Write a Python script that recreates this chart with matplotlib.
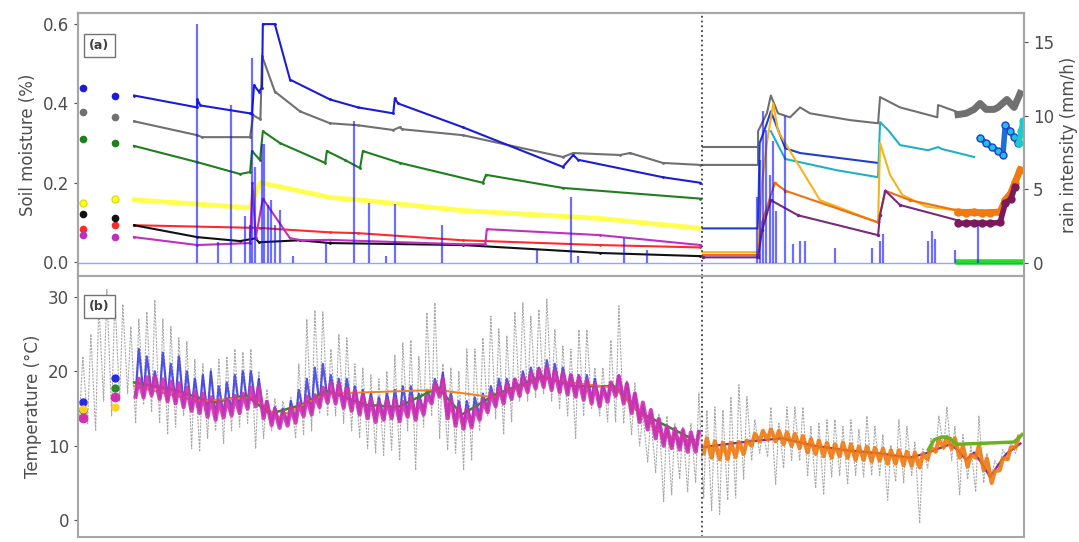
import matplotlib
matplotlib.use('Agg')
import matplotlib.pyplot as plt

# ---- soil moisture, left site (days, value) ----
start_days = [0.6, 4.6]   # isolated samples before the continuous record

sm_blue_start = [0.44, 0.42]
sm_blue_days = [7.0, 14.9, 14.9, 15.3, 21.5, 21.75, 22.0, 22.6, 23.0, 23.1, 24.6, 26.5, 31.5, 35.0, 39.4, 39.6, 40.0, 48.1, 60.6, 61.9, 62.5, 73.1, 77.8]
sm_blue = [0.42, 0.39, 0.41, 0.395, 0.375, 0.373, 0.446, 0.43, 0.44, 0.6, 0.6, 0.46, 0.41, 0.39, 0.375, 0.413, 0.40, 0.34, 0.24, 0.27, 0.258, 0.214, 0.20]

sm_grey_start = [0.378, 0.365]
sm_grey_days = [7.0, 14.9, 15.5, 21.5, 21.9, 22.8, 23.0, 24.6, 27.75, 31.5, 35.0, 39.4, 40.2, 40.5, 48.1, 60.6, 61.9, 67.75, 69.0, 73.1, 77.8]
sm_grey = [0.355, 0.32, 0.315, 0.315, 0.37, 0.36, 0.52, 0.43, 0.38, 0.35, 0.345, 0.333, 0.34, 0.335, 0.32, 0.265, 0.275, 0.27, 0.275, 0.25, 0.245]

sm_green_start = [0.31, 0.30]
sm_green_days = [7.0, 14.9, 20.25, 21.5, 21.75, 22.75, 23.1, 25.25, 30.9, 31.1, 33.4, 35.25, 35.6, 40.25, 50.6, 51.0, 60.6, 77.8]
sm_green = [0.293, 0.252, 0.222, 0.227, 0.28, 0.257, 0.33, 0.30, 0.25, 0.28, 0.257, 0.237, 0.28, 0.25, 0.20, 0.22, 0.187, 0.16]

sm_yellow_start = [0.15, 0.16]
sm_yellow_days = [7.0, 21.5, 22.75, 25.25, 31.5, 35.0, 48.1, 65.25, 77.8]
sm_yellow = [0.157, 0.137, 0.20, 0.19, 0.163, 0.157, 0.13, 0.11, 0.085]

sm_red_start = [0.083, 0.093]
sm_red_days = [7.0, 22.75, 31.5, 35.0, 48.1, 65.25, 77.8]
sm_red = [0.093, 0.086, 0.075, 0.073, 0.055, 0.043, 0.037]

sm_black_start = [0.121, 0.11]
sm_black_days = [7.0, 14.9, 20.25, 22.2, 22.6, 27.75, 31.5, 48.1, 65.25, 77.8]
sm_black = [0.093, 0.063, 0.053, 0.06, 0.05, 0.055, 0.048, 0.043, 0.023, 0.015]

sm_mag_start = [0.068, 0.063]
sm_mag_days = [7.0, 14.9, 21.5, 21.8, 22.2, 23.1, 26.5, 28.0, 31.5, 48.1, 50.9, 51.1, 65.25, 77.8]
sm_mag = [0.063, 0.043, 0.048, 0.20, 0.06, 0.16, 0.06, 0.055, 0.056, 0.045, 0.045, 0.083, 0.068, 0.043]

# ---- soil moisture, right site ----
sm2_grey_up_days = [78.1, 85.0]
sm2_grey_up = [0.29, 0.29]
sm2_grey_days = [78.1, 85.0, 85.0, 86.1, 86.6, 87.5, 89.0, 90.25, 91.5, 96.5, 100.0, 100.25, 102.75, 106.5, 107.4, 107.5, 110.0]
sm2_grey = [0.245, 0.245, 0.33, 0.375, 0.42, 0.375, 0.365, 0.39, 0.375, 0.358, 0.35, 0.416, 0.39, 0.37, 0.365, 0.396, 0.378]
sm2_grey_dots_days = [110.0, 111.0, 112.0, 112.75, 113.5, 114.5, 115.0, 116.1, 117.0, 117.75]
sm2_grey_dots = [0.372, 0.375, 0.385, 0.40, 0.385, 0.385, 0.39, 0.41, 0.39, 0.425]

sm2_blue_days = [78.1, 85.0, 85.2, 86.1, 86.6, 88.4, 90.25, 100.0]
sm2_blue = [0.085, 0.085, 0.30, 0.35, 0.38, 0.287, 0.275, 0.25]
sm2_cyan_days = [86.6, 88.4, 94.75, 100.0, 100.25, 101.25, 102.75, 106.25, 107.5, 108.0, 110.0, 112.0]
sm2_cyan = [0.33, 0.26, 0.232, 0.214, 0.353, 0.333, 0.295, 0.282, 0.29, 0.285, 0.275, 0.265]
sm2_blue_dots_days = [112.75, 113.5, 114.25, 115.0, 115.6, 115.9, 116.5, 117.0, 117.5]
sm2_blue_dots = [0.313, 0.30, 0.29, 0.28, 0.27, 0.345, 0.33, 0.315, 0.30]
sm2_cyan_dots_days = [117.6, 117.9, 118.1]
sm2_cyan_dots = [0.30, 0.33, 0.355]

sm2_gold_days = [78.1, 85.0, 85.5, 86.1, 86.9, 87.5, 89.0, 92.75, 100.0, 100.25, 101.5, 103.0, 106.0, 110.0]
sm2_gold = [0.025, 0.025, 0.2, 0.3, 0.4, 0.33, 0.28, 0.156, 0.10, 0.30, 0.22, 0.17, 0.14, 0.13]
sm2_orange_days = [78.1, 85.0, 85.5, 87.1, 88.4, 100.0, 100.25, 100.9, 104.0, 110.0]
sm2_orange = [0.018, 0.018, 0.10, 0.20, 0.18, 0.10, 0.12, 0.18, 0.156, 0.13]
sm2_orange_dots_days = [110.0, 111.0, 112.0, 113.0, 114.0, 115.25, 115.9, 116.6, 117.1, 117.75]
sm2_orange_dots = [0.126, 0.125, 0.126, 0.124, 0.125, 0.126, 0.156, 0.174, 0.20, 0.232]
sm2_purple_days = [78.1, 85.0, 85.5, 86.6, 90.0, 100.0, 100.25, 100.9, 102.75, 110.0]
sm2_purple = [0.012, 0.012, 0.08, 0.156, 0.118, 0.068, 0.12, 0.18, 0.144, 0.105]
sm2_purple_dots_days = [110.0, 111.0, 112.0, 113.0, 114.0, 115.25, 115.9, 116.6, 117.1]
sm2_purple_dots = [0.098, 0.098, 0.099, 0.098, 0.098, 0.10, 0.148, 0.16, 0.19]
sm2_green_days = [110.0, 111.5, 113.0, 114.5, 116.0, 117.5, 118.2]
sm2_green = [0.0, 0.0, 0.0, 0.0, 0.0, 0.0, 0.0]

# ---- rain intensity (mm/h) ----
rain_days = [14.9, 17.5, 19.1, 20.9, 21.5, 21.8, 22.1, 23.0, 23.25, 23.75, 24.1, 24.6, 25.25, 26.9,
             31.0, 34.5, 36.4, 38.5, 39.6, 45.5, 57.4, 61.6, 62.5, 68.25, 71.1,
             84.9, 85.25, 85.6, 86.0, 86.5, 86.9, 87.25, 88.4, 89.4, 90.25, 90.9, 94.6, 99.25,
             100.25, 100.6, 106.25, 106.75, 107.1, 109.6, 112.5]
rain = [16.2, 1.4, 10.7, 3.2, 2.6, 13.9, 6.5, 8.1, 8.1, 3.9, 4.3, 2.6, 3.6, 0.5,
        1.4, 9.6, 4.1, 0.5, 4.0, 2.6, 0.9, 4.5, 0.5, 1.7, 0.9,
        4.5, 7.0, 10.3, 9.0, 6.0, 8.3, 3.5, 10.0, 1.3, 1.5, 1.5, 1.0, 1.0,
        1.5, 2.0, 1.5, 2.2, 1.6, 0.9, 2.6]

# ---- air temperature, daily max / min (days 0..117) ----
air_max = [22, 25, 29, 31, 30, 29, 26, 27, 28, 29.6, 27, 26, 24.5, 24, 21.6, 21, 20.5, 21.6, 22, 23,
           22.6, 23, 20, 17.6, 16.3, 16, 16.5, 21, 27, 28.2, 28, 23, 25, 24.5, 21, 20.5, 19.5, 19, 20, 22.2,
           23.8, 24.2, 22, 27.9, 29.2, 21, 20.5, 20, 23, 23, 24.5, 27.4, 25.7, 24.8, 28, 29.2, 27.4, 28.3, 29.7, 25.6,
           23.4, 23, 25.6, 25.6, 20.5, 20.5, 24.2, 28.8, 18.8, 18.4, 14.3, 13.9, 14.3, 14, 13, 12.6, 13, 17.1, 14.8, 15.2,
           14.8, 16.6, 18.2, 16.6, 13.5, 12.2, 15.2, 13, 15.2, 15.2, 15.2, 12.6, 13, 13.5, 13.5, 12.6, 13.5, 12.2, 14, 12.6,
           11.5, 10.1, 13.5, 12.6, 10.5, 9.6, 11, 14, 15.2, 12.6, 11.5, 10, 14, 9, 8, 9.5, 10.5, 11]
air_min = [14, 13, 12, 16, 14, 16, 17, 13, 15.5, 14.5, 13, 11.5, 12.5, 14, 9.6, 9.2, 11, 12, 10.3, 12,
           12.5, 13, 9.6, 11, 12, 12.5, 13, 11, 11.5, 12, 14.3, 14, 14, 13, 12, 11, 9.6, 9, 8.7, 9.4,
           8, 12, 6.7, 12.5, 14, 11, 9.4, 9, 6.7, 8, 12, 14, 13.6, 11.5, 13.2, 16, 16, 16.5, 17, 16,
           15, 14, 11, 14, 15, 14, 13.2, 13.2, 13, 11.5, 10, 7.8, 6.4, 2.5, 3.4, 5.5, 3.8, 5, 3, 1.3,
           0.8, 2.7, 3, 5.5, 8, 9, 8.5, 4.8, 7, 8, 8, 6, 4.3, 3.4, 5.8, 6, 4.8, 6, 5.8, 6,
           6, 2.7, 5.2, 5, 6, -0.4, 7, 9, 9.5, 8, 3.4, 5.5, 3.8, 5, 6, 7, 8, 9]

# ---- soil temperature, left site (days 7..77) ----
t_blue_hi = [23, 22, 20, 22.5, 21, 22, 20, 19, 19.5, 20, 18, 18.5, 19.5, 20, 20, 19, 16, 15.2, 15, 16,
             17.5, 19, 20.5, 21, 19.5, 19, 19, 18, 17.5, 17, 16.5, 17, 17.5, 18, 18, 17, 17.5, 19, 19.8, 17,
             16, 16, 16.5, 17, 18, 19, 19, 19, 20, 20.5, 20.5, 21.5, 21, 20.5, 19.5, 19.5, 19.5, 19, 18, 18.5,
             19.5, 18.5, 17, 15.5, 14.5, 13.5, 12.5, 12, 12, 11.5, 12]
t_blue_lo = [16.9, 16.8, 17.1, 16.6, 16.3, 16.0, 15.5, 15.0, 14.7, 14.2, 13.8, 14.1, 14.4, 14.7, 15.3, 15.6, 14.0, 13.1, 12.7, 13.0,
             13.4, 14.3, 14.5, 15.5, 16.1, 16.0, 15.4, 15.0, 14.5, 14.0, 13.5, 13.8, 14.0, 13.6, 14.2, 13.8, 14.5, 16.0, 16.9, 14.0,
             13.0, 12.6, 12.8, 13.8, 14.8, 15.6, 16.0, 16.6, 17.0, 17.5, 18.0, 18.2, 17.8, 17.5, 17.2, 16.9, 16.5, 16.0, 15.6, 16.2,
             17.0, 16.0, 14.7, 13.5, 12.5, 11.3, 10.3, 10.0, 9.8, 9.5, 9.5]
t_mag_hi = [19.0, 19.2, 19.3, 18.9, 18.6, 18.4, 17.8, 17.2, 17.0, 16.5, 16.1, 16.3, 16.7, 17.0, 17.8, 17.9, 15.9, 14.9, 14.6, 15.1,
            15.7, 16.6, 16.8, 17.8, 18.4, 18.3, 17.7, 17.3, 16.8, 16.3, 15.8, 16.1, 16.3, 15.9, 16.5, 16.1, 16.8, 18.3, 19.0, 16.3,
            15.3, 14.9, 15.1, 16.1, 17.1, 17.9, 18.3, 18.9, 19.3, 19.8, 20.3, 20.5, 20.1, 19.8, 19.5, 19.2, 18.8, 18.3, 17.9, 18.5,
            19.3, 18.3, 17.0, 15.8, 14.8, 13.6, 12.6, 12.3, 12.1, 11.8, 11.8]
t_mag_lo = [16.6, 16.5, 16.8, 16.3, 16.0, 15.7, 15.2, 14.7, 14.4, 13.9, 13.5, 13.8, 14.1, 14.4, 15.0, 15.3, 13.7, 12.8, 12.4, 12.7,
            13.1, 14.0, 14.2, 15.2, 15.8, 15.7, 15.1, 14.7, 14.2, 13.7, 13.2, 13.5, 13.7, 13.3, 13.9, 13.5, 14.2, 15.7, 16.6, 13.7,
            12.7, 12.3, 12.5, 13.5, 14.5, 15.3, 15.7, 16.3, 16.7, 17.2, 17.7, 17.9, 17.5, 17.2, 16.9, 16.6, 16.2, 15.7, 15.3, 15.9,
            16.7, 15.7, 14.4, 13.2, 12.2, 11.0, 10.0, 9.7, 9.5, 9.2, 9.2]
t_green_days = [7, 12, 17, 21, 24, 28, 31, 36, 40, 45, 48, 52, 58, 62, 67, 70, 77]
t_green = [18.5, 17.5, 15.8, 16.8, 14.3, 15.5, 17.4, 15.5, 15.2, 17.8, 14.2, 16.8, 19.3, 18.0, 18.0, 14.6, 10.8]
t_orange_l_days = [7, 15, 22, 25, 31, 45, 52, 58, 67, 73, 77]
t_orange_l = [18.0, 16.0, 16.5, 13.8, 17.0, 17.5, 16.5, 19.0, 17.8, 11.5, 10.6]

# first isolated samples (days 0.6 and 4.6)
t_start_blue = [15.9, 19.1]
t_start_green = [14.8, 17.8]
t_start_mag = [13.7, 16.6]
t_start_yellow = [15.0, 15.2]

# ---- soil temperature, right site (days 78..117) ----
t_or_hi = [11.0, 10.6, 10.4, 10.4, 10.5, 10.7, 11.6, 12.0, 12.2, 12.0, 11.8, 11.6, 11.3, 10.9, 10.7, 10.4, 10.2, 10.4, 10.2, 9.9,
           9.9, 9.7, 9.6, 9.4, 9.4, 9.2, 9.1, 8.9, 9.8, 10.8, 11.2, 11.0, 10.0, 8.8, 10.0, 8.3, 6.6, 8.3, 9.8, 11.2]
t_or_lo = [9.0, 8.4, 8.2, 8.2, 8.5, 8.9, 10.0, 10.6, 10.8, 10.6, 10.2, 10.0, 9.7, 9.1, 8.9, 8.6, 8.4, 8.6, 8.4, 8.1,
           8.1, 7.9, 8.0, 7.6, 7.6, 7.4, 7.3, 7.1, 8.2, 9.2, 9.8, 9.6, 8.4, 7.2, 8.4, 6.7, 5.0, 6.7, 8.2, 9.8]
t_purple_days = [78, 84, 88, 92, 96, 100, 104, 106, 109, 110, 111, 112, 113, 114, 115, 116, 117.8]
t_purple = [9.8, 10.6, 11.0, 10.0, 9.4, 9.0, 8.4, 9.0, 10.2, 9.4, 8.1, 9.1, 7.6, 5.8, 7.4, 8.9, 10.3]
t_green_r_days = [106.3, 107, 108, 109, 109.8, 117, 118]
t_green_r = [9.5, 10.8, 11.2, 11.0, 10.2, 10.5, 11.5]

split_day = 78.0


def daily(first_day, lo, hi):
    # alternate night minimum / afternoon maximum for each day
    xs, ys = [], []
    for i, (a, b) in enumerate(zip(lo, hi)):
        xs += [first_day + i + 0.2, first_day + i + 0.6]
        ys += [a, b]
    return xs, ys


txt = '0.3'
plt.rcParams['font.family'] = 'DejaVu Sans'
fig = plt.figure(figsize=(10.79, 5.42), dpi=100)
ax = fig.add_axes([0.0723, 0.4908, 0.8768, 0.4852])
axr = ax.twinx()
axt = fig.add_axes([0.0723, 0.0092, 0.8768, 0.4816], sharex=ax)

# --- panel (a) ---
lw = 1.5
series = [
    (sm_grey_start, sm_grey_days, sm_grey, '#707070'),
    (sm_blue_start, sm_blue_days, sm_blue, '#1c1cd8'),
    (sm_green_start, sm_green_days, sm_green, '#1f7f1f'),
    (sm_red_start, sm_red_days, sm_red, '#ff2a2a'),
    (sm_black_start, sm_black_days, sm_black, '#111111'),
    (sm_mag_start, sm_mag_days, sm_mag, '#c030c0'),
]
ax.plot(start_days, sm_yellow_start, 'o', color='#ffff30', ms=5, mec='#e0e000')
ax.plot(sm_yellow_days, sm_yellow, color='#ffff30', lw=3.5, alpha=0.85)
for st, d, v, c in series:
    ax.plot(start_days, st, 'o', color=c, ms=4.5)
    ax.plot(d, v, color=c, lw=lw, marker='.', ms=2)

ax.plot(sm2_grey_up_days, sm2_grey_up, color='#707070', lw=lw)
ax.plot(sm2_grey_days, sm2_grey, color='#707070', lw=lw)
ax.plot(sm2_grey_dots_days, sm2_grey_dots, color='#707070', lw=5)
ax.plot(sm2_blue_days, sm2_blue, color='#1f3fd0', lw=lw)
ax.plot(sm2_cyan_days, sm2_cyan, color='#1fb0c8', lw=lw)
ax.plot(sm2_blue_dots_days, sm2_blue_dots, 'o-', color='#1f6fd0', lw=4, ms=5, mfc='#20c0e0', mec='#1f3fd0')
ax.plot(sm2_cyan_dots_days, sm2_cyan_dots, 'o-', color='#20c8c8', lw=4, ms=5)
ax.plot(sm2_gold_days, sm2_gold, color='#f2b51c', lw=lw)
ax.plot(sm2_orange_days, sm2_orange, color='#f07010', lw=lw, marker='.', ms=3)
ax.plot(sm2_purple_days, sm2_purple, color='#7a2a7a', lw=lw, marker='.', ms=3)
ax.plot(sm2_orange_dots_days, sm2_orange_dots, 'o-', color='#f07a10', lw=5, ms=5)
ax.plot(sm2_purple_dots_days, sm2_purple_dots, 'o-', color='#7a1a5a', lw=4, ms=5)
ax.plot(sm2_green_days, sm2_green, color='#22e022', lw=4, zorder=5)

ax.set_ylim(-0.035, 0.628)
ax.set_yticks([0.0, 0.2, 0.4, 0.6])
ax.set_yticklabels(['0.0', '0.2', '0.4', '0.6'])
ax.set_ylabel('Soil moisture (%)', fontsize=12, color=txt)

axr.axhline(0, color='#6060ff', lw=1, alpha=0.6)
axr.vlines(rain_days, 0, rain, color='#1010ff', lw=1.6, alpha=0.6)
axr.set_ylim(-0.88, 16.95)
axr.set_yticks([0, 5, 10, 15])
axr.set_ylabel('rain intensity (mm/h)', fontsize=12, color=txt)

# --- panel (b) ---
ax_x, ax_y = daily(0, air_min, air_max)
axt.plot(ax_x, ax_y, color='0.55', lw=0.8, ls=(0, (2, 1)), alpha=0.75)
bx, by = daily(7, t_blue_lo, t_blue_hi)
axt.plot(bx, by, color='#2a2ae0', lw=1.6, alpha=0.8)
axt.plot(t_green_days, t_green, color='#2a8a2a', lw=1.8)
axt.plot(t_orange_l_days, t_orange_l, color='#f08020', lw=1.4)
mx, my = daily(7, t_mag_lo, t_mag_hi)
axt.plot(mx, my, color='#d030b0', lw=3.0, alpha=0.9)
axt.plot(t_purple_days, t_purple, color='#7a2a9a', lw=1.6)
ox, oy = daily(78, t_or_lo, t_or_hi)
axt.plot(ox, oy, color='#f07a10', lw=3.0, alpha=0.9)
axt.plot(t_green_r_days, t_green_r, color='#6ab020', lw=2.5)
axt.plot(start_days, t_start_blue, 'o', color='#2a2ae0', ms=5)
axt.plot(start_days, t_start_green, 'o', color='#2a8a2a', ms=5)
axt.plot(start_days, t_start_yellow, 'o', color='#ffd020', ms=5)
axt.plot(start_days, t_start_mag, 'o', color='#d030b0', ms=6)

axt.set_ylim(-2.25, 32.8)
axt.set_yticks([0, 10, 20, 30])
axt.set_ylabel('Temperature (°C)', fontsize=12, color=txt)
axt.set_xlim(0, 118.25)

for a in (ax, axt):
    a.axvline(split_day, color='0.25', ls=':', lw=1.3)

for a in (ax, axr, axt):
    for s in a.spines.values():
        s.set_color('0.65')
        s.set_linewidth(1.5)
    a.tick_params(labelsize=12, colors=txt, length=3)
ax.tick_params(axis='x', labelbottom=False, length=0)
axt.tick_params(axis='x', labelbottom=False, length=0)

box = dict(boxstyle='square,pad=0.4', fc='white', ec='0.45', lw=1)
ax.text(0.012, 0.875, '(a)', transform=ax.transAxes, fontsize=9, fontweight='bold', color='0.25', bbox=box, va='center')
axt.text(0.012, 0.885, '(b)', transform=axt.transAxes, fontsize=9, fontweight='bold', color='0.25', bbox=box, va='center')

fig.savefig('out.png', dpi=100)
